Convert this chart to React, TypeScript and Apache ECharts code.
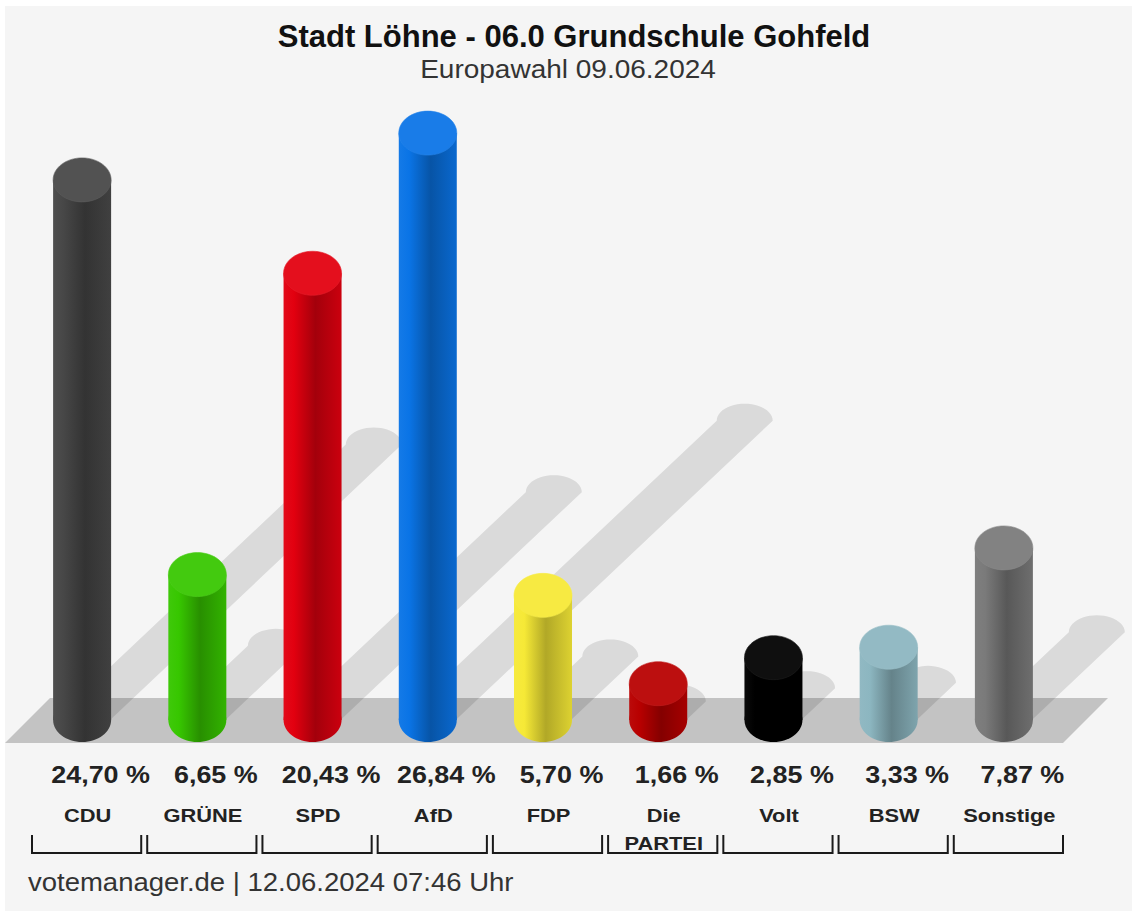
import React, { useEffect, useRef } from "react";
import * as echarts from "echarts";

const titleText = "Stadt Löhne - 06.0 Grundschule Gohfeld";
const subtitleText = "Europawahl 09.06.2024";
const footerText = "votemanager.de | 12.06.2024 07:46 Uhr";

const categories = ["CDU", "GRÜNE", "SPD", "AfD", "FDP", "Die\nPARTEI", "Volt", "BSW", "Sonstige"];
const values = [24.7, 6.65, 20.43, 26.84, 5.7, 1.66, 2.85, 3.33, 7.87];
const colors = ["#474747", "#37c700", "#e2000f", "#0a74e6", "#f6e936", "#b80000", "#000000", "#8cb6c0", "#7a7a7a"];

const FONT = "'Liberation Sans', Arial, Helvetica, sans-serif";

function shade(hex: string, f: number): string {
  const n = parseInt(hex.slice(1), 16);
  const clamp = (x: number) => Math.max(0, Math.min(255, Math.round(x)));
  let r = (n >> 16) & 255, g = (n >> 8) & 255, b = n & 255;
  if (f <= 1) { r *= f; g *= f; b *= f; }
  else { const t = f - 1; r += (255 - r) * t; g += (255 - g) * t; b += (255 - b) * t; }
  return "#" + [r, g, b].map((x) => clamp(x).toString(16).padStart(2, "0")).join("");
}

function fmt(v: number): string {
  return v.toFixed(2).replace(".", ",") + " %";
}

export default function App() {
  const ref = useRef<HTMLDivElement>(null);
  useEffect(() => {
    if (!ref.current) return;
    document.documentElement.style.background = "#f5f5f5";
    document.body.style.background = "#f5f5f5";
    document.body.style.margin = "0";
    document.body.style.overflow = "hidden";
    const chart = echarts.init(ref.current, null, { renderer: "svg" });
    const data = values.map((v, i) => [i, v]);
    const R = 29, RY = 22, OFF = -4.5;

    const shadowItem = (params: any, api: any) => {
      const [cx, topY] = api.coord([api.value(0), api.value(1)]);
      const [, baseY] = api.coord([api.value(0), 0]);
      const bx = cx + OFF;
      const h = baseY - topY;
      const ex = bx + 0.54 * h;
      const ey = baseY - 0.51 * h;
      const pts: number[][] = [[bx - 28, baseY], [bx + 28, baseY]];
      for (let k = 0; k <= 24; k++) {
        const t = (Math.PI * k) / 24;
        pts.push([ex + 28 * Math.cos(t), ey - 17 * Math.sin(t)]);
      }
      return {
        type: "polygon",
        shape: { points: pts },
        style: { fill: "rgba(0,0,0,0.11)" },
      };
    };

    const barItem = (params: any, api: any) => {
      const i = params.dataIndex;
      const v = api.value(1);
      const [cx, topY] = api.coord([api.value(0), v]);
      const [, baseY] = api.coord([api.value(0), 0]);
      const band = api.size([1, 0])[0];
      const bx = cx + OFF;
      const c = colors[i];
      const grad = new echarts.graphic.LinearGradient(0, 0, 1, 0, [
        { offset: 0, color: shade(c, 1.04) },
        { offset: 0.18, color: c },
        { offset: 0.55, color: shade(c, 0.72) },
        { offset: 1, color: shade(c, 0.9) },
      ]);
      const half = band / 2 - 3;
      const children: any[] = [
        {
          type: "ellipse",
          shape: { cx: bx, cy: baseY, rx: R, ry: RY },
          style: { fill: grad },
        },
        {
          type: "rect",
          shape: { x: bx - R, y: topY, width: 2 * R, height: baseY - topY },
          style: { fill: grad },
        },
        {
          type: "ellipse",
          shape: { cx: bx, cy: topY, rx: R, ry: RY },
          style: { fill: shade(c, 1.06), stroke: shade(c, 1.12), lineWidth: 0.6 },
        },
        {
          type: "text",
          x: cx + 14,
          y: 775,
          scaleX: 1.17,
          style: {
            text: fmt(v),
            x: 0,
            y: 0,
            fill: "#222",
            fontFamily: FONT,
            fontSize: 23,
            fontWeight: "bold",
            align: "center",
            verticalAlign: "middle",
            textAlign: "center",
            textVerticalAlign: "middle",
          },
        },
        {
          type: "text",
          x: cx + 1,
          y: 801,
          scaleX: 1.15,
          style: {
            text: categories[i],
            x: 0,
            y: 0,
            fill: "#222",
            fontFamily: FONT,
            fontSize: 19,
            fontWeight: "bold",
            lineHeight: 28,
            align: "center",
            verticalAlign: "top",
            textAlign: "center",
            textVerticalAlign: "top",
          },
        },
        {
          type: "polyline",
          shape: {
            points: [
              [cx - half, 835],
              [cx - half, 853],
              [cx + half, 853],
              [cx + half, 835],
            ],
          },
          style: { stroke: "#1a1a1a", lineWidth: 2, fill: null },
        },
      ];
      return { type: "group", children };
    };

    chart.setOption({
      animation: false,
      backgroundColor: "transparent",
      grid: { left: 29, right: 66, top: 64, bottom: 191, containLabel: false },
      xAxis: { type: "category", data: categories, show: false },
      yAxis: { type: "value", min: 0, max: 30, show: false },
      graphic: [
        { type: "rect", z: -10, shape: { x: 0, y: 0, width: 1132, height: 6 }, style: { fill: "#ffffff" } },
        { type: "rect", z: -10, shape: { x: 0, y: 0, width: 5, height: 911 }, style: { fill: "#ffffff" } },
        {
          type: "polygon",
          z: 1,
          shape: { points: [[5, 743], [50, 698], [1108, 698], [1063, 743]] },
          style: { fill: "#c3c3c3" },
        },
        {
          type: "text",
          z: 10,
          x: 574,
          y: 36,
          style: {
            text: titleText,
            fill: "#111",
            fontFamily: FONT,
            fontSize: 31,
            fontWeight: "bold",
            align: "center",
            verticalAlign: "middle",
            textAlign: "center",
            textVerticalAlign: "middle",
          },
        },
        {
          type: "text",
          z: 10,
          x: 568,
          y: 70,
          scaleX: 1.12,
          style: {
            text: subtitleText,
            fill: "#333",
            fontFamily: FONT,
            fontSize: 25,
            align: "center",
            verticalAlign: "middle",
            textAlign: "center",
            textVerticalAlign: "middle",
          },
        },
        {
          type: "text",
          z: 10,
          x: 28,
          y: 882,
          scaleX: 1.1,
          style: {
            text: footerText,
            fill: "#333",
            fontFamily: FONT,
            fontSize: 25,
            align: "left",
            verticalAlign: "middle",
            textAlign: "left",
            textVerticalAlign: "middle",
          },
        },
      ],
      series: [
        { type: "custom", z: 3, clip: false, data, renderItem: shadowItem, silent: true },
        { type: "custom", z: 4, clip: false, data, renderItem: barItem, silent: true },
      ],
    });
    return () => chart.dispose();
  }, []);
  return (
    <div
      ref={ref}
      style={{ position: "absolute", left: 0, top: 0, width: 1132, height: 911, background: "#f5f5f5" }}
    />
  );
}
